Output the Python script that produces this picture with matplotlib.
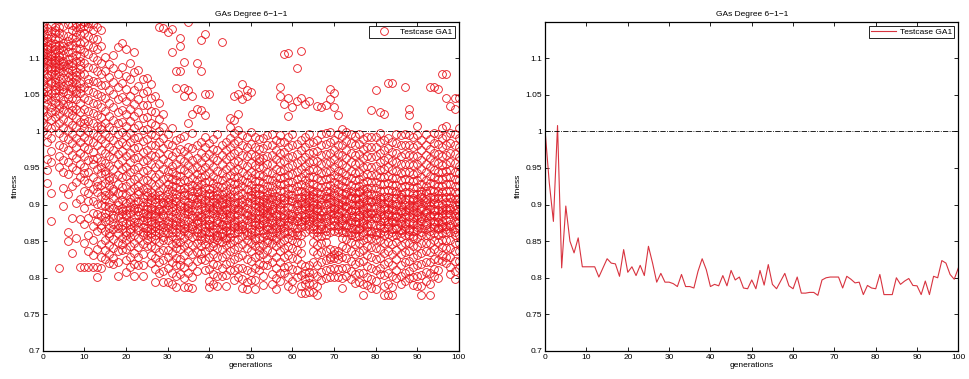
import matplotlib.pyplot as plt
import numpy as np
from matplotlib.pyplot import MultipleLocator

# best fitness of each generation (right panel)
best_fit = [
	1.000, 0.930, 0.877, 1.008, 0.8135, 0.898, 0.850, 0.834, 0.8545, 0.815,
	0.815, 0.815, 0.815, 0.801, 0.8135, 0.826, 0.820, 0.819, 0.802, 0.8385,
	0.8075, 0.815, 0.803, 0.817, 0.803, 0.843, 0.820, 0.794, 0.806, 0.794,
	0.794, 0.792, 0.788, 0.8045, 0.788, 0.788, 0.786, 0.809, 0.826, 0.811,
	0.788, 0.791, 0.789, 0.803, 0.789, 0.810, 0.797, 0.801, 0.786, 0.785,
	0.797, 0.785, 0.810, 0.790, 0.818, 0.791, 0.785, 0.7955, 0.806, 0.789,
	0.785, 0.801, 0.779, 0.779, 0.780, 0.780, 0.776, 0.797, 0.800, 0.801,
	0.801, 0.801, 0.786, 0.802, 0.798, 0.793, 0.794, 0.777, 0.7895, 0.786,
	0.785, 0.8045, 0.777, 0.777, 0.777, 0.800, 0.791, 0.7955, 0.799, 0.7895,
	0.789, 0.777, 0.7955, 0.777, 0.802, 0.800, 0.8235, 0.820, 0.8045, 0.798,
	0.8135,
]

# whole population per generation (left panel), gens 0-14
pop_a = [
	[1.000, 1.012, 1.031, 1.046, 1.058, 1.064, 1.072, 1.083, 1.091, 1.097, 1.104, 1.108, 1.115, 1.122, 1.131, 1.139, 1.146, 1.027, 1.069, 1.088, 1.112, 1.142, 1.053, 1.018, 1.125],
	[0.930, 0.947, 0.962, 0.985, 0.996, 1.008, 1.021, 1.037, 1.049, 1.061, 1.074, 1.086, 1.093, 1.101, 1.109, 1.117, 1.124, 1.133, 1.141, 1.079, 1.097, 1.055, 1.112, 1.044, 1.128],
	[0.877, 0.916, 0.958, 0.973, 0.991, 1.004, 1.015, 1.026, 1.041, 1.052, 1.066, 1.078, 1.087, 1.095, 1.103, 1.106, 1.114, 1.121, 1.129, 1.137, 1.145, 1.082, 1.099, 1.068, 1.034],
	[1.008, 1.019, 1.028, 1.039, 1.047, 1.056, 1.063, 1.071, 1.079, 1.088, 1.094, 1.102, 1.107, 1.113, 1.119, 1.126, 1.134, 1.143, 1.098, 1.084, 1.067, 1.116, 1.052, 1.139],
	[0.8135, 0.951, 0.967, 0.982, 0.998, 1.011, 1.024, 1.036, 1.048, 1.057, 1.069, 1.076, 1.083, 1.091, 1.098, 1.105, 1.112, 1.118, 1.127, 1.135, 1.142, 1.062, 1.087, 1.101, 1.032],
	[0.898, 0.923, 0.944, 0.961, 0.979, 0.993, 1.005, 1.017, 1.029, 1.043, 1.054, 1.062, 1.073, 1.081, 1.089, 1.096, 1.104, 1.111, 1.121, 1.132, 1.144, 1.058, 1.093, 1.117, 1.038],
	[0.850, 0.862, 0.915, 0.942, 0.958, 0.975, 0.989, 1.002, 1.014, 1.026, 1.038, 1.051, 1.063, 1.074, 1.086, 1.092, 1.099, 1.108, 1.116, 1.123, 1.131, 1.147, 1.081, 1.045, 1.069],
	[0.834, 0.882, 0.926, 0.952, 0.968, 0.984, 0.997, 1.009, 1.022, 1.035, 1.046, 1.058, 1.067, 1.076, 1.084, 1.093, 1.101, 1.109, 1.118, 1.128, 1.138, 1.146, 1.061, 1.089, 1.029],
	[0.8545, 0.902, 0.931, 0.947, 0.963, 0.978, 0.991, 1.006, 1.018, 1.031, 1.044, 1.056, 1.065, 1.072, 1.081, 1.096, 1.105, 1.114, 1.122, 1.129, 1.136, 1.143, 1.148, 1.077, 1.052],
	[0.815, 0.880, 0.908, 0.937, 0.955, 0.971, 0.986, 0.999, 1.013, 1.027, 1.039, 1.053, 1.066, 1.078, 1.091, 1.103, 1.112, 1.121, 1.133, 1.141, 1.147, 1.085, 1.059, 1.096],
	[0.815, 0.848, 0.873, 0.896, 0.918, 0.934, 0.951, 0.966, 0.979, 0.992, 1.004, 1.017, 1.031, 1.046, 1.061, 1.078, 1.094, 1.109, 1.122, 1.135, 1.144, 1.149, 0.943, 1.012],
	[0.815, 0.836, 0.859, 0.882, 0.916, 0.929, 0.944, 0.961, 0.976, 0.988, 1.001, 1.014, 1.028, 1.043, 1.057, 1.072, 1.088, 1.106, 1.118, 1.131, 1.142, 1.148, 0.905, 1.066],
	[0.815, 0.831, 0.852, 0.871, 0.889, 0.905, 0.921, 0.938, 0.956, 0.972, 0.985, 0.998, 1.011, 1.025, 1.039, 1.054, 1.069, 1.086, 1.101, 1.115, 1.127, 1.139, 1.147, 0.962],
	[0.801, 0.815, 0.839, 0.864, 0.887, 0.901, 0.917, 0.932, 0.948, 0.964, 0.981, 0.994, 1.008, 1.022, 1.037, 1.051, 1.067, 1.083, 1.098, 1.112, 1.126, 1.143, 0.926, 0.878],
	[0.8135, 0.829, 0.846, 0.868, 0.885, 0.899, 0.912, 0.927, 0.943, 0.959, 0.974, 0.989, 1.003, 1.019, 1.034, 1.048, 1.063, 1.079, 1.094, 1.117, 1.138, 0.872, 0.951, 1.007],
]

# gens 15-29
pop_b = [
	[0.826, 0.838, 0.851, 0.864, 0.877, 0.889, 0.898, 0.907, 0.918, 0.929, 0.942, 0.957, 0.971, 0.984, 0.996, 1.012, 1.028, 1.046, 1.063, 1.082, 1.101, 0.883, 0.913, 0.946],
	[0.820, 0.832, 0.845, 0.857, 0.868, 0.879, 0.891, 0.903, 0.914, 0.926, 0.938, 0.953, 0.967, 0.979, 0.992, 1.006, 1.021, 1.039, 1.057, 1.074, 1.092, 0.861, 0.897, 0.934],
	[0.819, 0.827, 0.841, 0.853, 0.866, 0.874, 0.886, 0.895, 0.909, 0.921, 0.936, 0.949, 0.963, 0.975, 0.988, 1.002, 1.016, 1.033, 1.051, 1.068, 1.086, 1.104, 0.882, 0.918],
	[0.802, 0.822, 0.836, 0.849, 0.861, 0.872, 0.884, 0.893, 0.904, 0.916, 0.928, 0.941, 0.955, 0.969, 0.983, 0.997, 1.011, 1.026, 1.044, 1.061, 1.079, 1.115, 0.868, 0.899],
	[0.8385, 0.846, 0.855, 0.866, 0.877, 0.887, 0.896, 0.906, 0.915, 0.924, 0.937, 0.948, 0.961, 0.973, 0.986, 0.999, 1.013, 1.029, 1.047, 1.066, 1.088, 1.121, 0.891, 0.872],
	[0.8075, 0.824, 0.839, 0.851, 0.863, 0.875, 0.884, 0.893, 0.902, 0.913, 0.925, 0.939, 0.952, 0.966, 0.981, 0.994, 1.008, 1.024, 1.041, 1.058, 1.076, 1.112, 0.887, 0.858],
	[0.815, 0.829, 0.843, 0.856, 0.867, 0.878, 0.889, 0.897, 0.908, 0.919, 0.931, 0.944, 0.958, 0.971, 0.985, 0.998, 1.014, 1.031, 1.049, 1.071, 1.093, 0.862, 0.903, 0.874],
	[0.803, 0.819, 0.834, 0.848, 0.859, 0.871, 0.882, 0.892, 0.901, 0.911, 0.923, 0.935, 0.949, 0.963, 0.977, 0.991, 1.005, 1.021, 1.038, 1.056, 1.081, 1.108, 0.876, 0.895],
	[0.817, 0.828, 0.842, 0.854, 0.865, 0.876, 0.886, 0.895, 0.905, 0.914, 0.926, 0.938, 0.951, 0.965, 0.979, 0.993, 1.009, 1.027, 1.044, 1.062, 1.084, 0.869, 0.891, 0.918],
	[0.803, 0.818, 0.833, 0.846, 0.858, 0.869, 0.879, 0.888, 0.898, 0.909, 0.921, 0.933, 0.946, 0.959, 0.972, 0.987, 1.002, 1.018, 1.036, 1.053, 1.072, 0.883, 0.862, 0.904],
	[0.843, 0.851, 0.859, 0.868, 0.877, 0.886, 0.894, 0.903, 0.912, 0.922, 0.934, 0.947, 0.961, 0.975, 0.989, 1.003, 1.019, 1.036, 1.055, 1.073, 0.881, 0.898, 0.917, 0.864],
	[0.820, 0.831, 0.844, 0.856, 0.867, 0.877, 0.887, 0.896, 0.906, 0.917, 0.929, 0.942, 0.956, 0.968, 0.982, 0.996, 1.011, 1.028, 1.046, 1.065, 0.873, 0.892, 0.911, 0.861],
	[0.794, 0.812, 0.827, 0.841, 0.853, 0.864, 0.875, 0.884, 0.893, 0.903, 0.913, 0.925, 0.938, 0.952, 0.966, 0.981, 0.995, 1.009, 1.026, 1.048, 0.871, 0.889, 0.907, 0.858],
	[0.806, 0.821, 0.835, 0.849, 0.861, 0.872, 0.882, 0.891, 0.899, 0.908, 0.918, 0.929, 0.942, 0.956, 0.971, 0.986, 1.001, 1.017, 1.039, 1.143, 0.878, 0.866, 0.894, 0.913],
	[0.794, 0.809, 0.824, 0.838, 0.851, 0.863, 0.874, 0.884, 0.893, 0.902, 0.911, 0.922, 0.935, 0.948, 0.962, 0.977, 0.991, 1.006, 1.024, 1.141, 0.869, 0.887, 0.904, 0.856],
]

# gens 30-64
pop_c = [
	[0.794, 0.813, 0.829, 0.838, 0.852, 0.861, 0.869, 0.878, 0.886, 0.893, 0.899, 0.907, 0.914, 0.921, 0.928, 0.937, 0.946, 0.958, 0.969, 0.983, 0.996, 1.136, 0.874, 0.903],
	[0.792, 0.806, 0.821, 0.834, 0.846, 0.857, 0.866, 0.875, 0.883, 0.891, 0.902, 0.911, 0.918, 0.926, 0.935, 0.944, 0.953, 0.967, 0.981, 1.004, 1.109, 1.140, 0.862, 0.897],
	[0.788, 0.803, 0.818, 0.827, 0.841, 0.853, 0.863, 0.872, 0.881, 0.889, 0.896, 0.905, 0.915, 0.924, 0.933, 0.941, 0.956, 0.972, 0.988, 1.059, 1.082, 0.848, 0.877, 0.909],
	[0.8045, 0.817, 0.826, 0.839, 0.849, 0.858, 0.867, 0.876, 0.884, 0.892, 0.901, 0.912, 0.921, 0.931, 0.939, 0.948, 0.962, 0.976, 0.991, 1.127, 1.116, 1.082, 0.871, 0.898],
	[0.788, 0.799, 0.815, 0.831, 0.843, 0.855, 0.864, 0.873, 0.882, 0.888, 0.897, 0.906, 0.913, 0.922, 0.934, 0.947, 0.959, 0.973, 0.994, 1.059, 1.048, 1.095, 0.868, 0.917],
	[0.788, 0.807, 0.822, 0.836, 0.847, 0.858, 0.869, 0.878, 0.887, 0.895, 0.904, 0.913, 0.924, 0.932, 0.943, 0.954, 0.966, 0.979, 1.012, 1.057, 1.149, 0.861, 0.891, 0.899],
	[0.786, 0.801, 0.816, 0.832, 0.845, 0.856, 0.866, 0.874, 0.882, 0.893, 0.901, 0.909, 0.918, 0.927, 0.936, 0.949, 0.961, 0.977, 0.998, 1.048, 1.024, 0.871, 0.886, 0.912],
	[0.809, 0.823, 0.835, 0.848, 0.857, 0.866, 0.875, 0.884, 0.891, 0.899, 0.908, 0.917, 0.925, 0.933, 0.942, 0.951, 0.964, 0.982, 1.031, 1.093, 0.862, 0.879, 0.903, 0.921],
	[0.826, 0.834, 0.843, 0.851, 0.861, 0.869, 0.877, 0.886, 0.894, 0.902, 0.911, 0.919, 0.928, 0.938, 0.947, 0.958, 0.971, 0.986, 1.029, 1.082, 1.125, 0.857, 0.883, 0.907],
	[0.811, 0.824, 0.837, 0.846, 0.855, 0.864, 0.873, 0.881, 0.889, 0.897, 0.906, 0.915, 0.923, 0.931, 0.941, 0.952, 0.965, 0.978, 0.993, 1.022, 1.051, 1.133, 0.869, 0.892],
	[0.788, 0.796, 0.812, 0.828, 0.842, 0.853, 0.862, 0.871, 0.879, 0.887, 0.895, 0.903, 0.912, 0.921, 0.932, 0.944, 0.957, 0.969, 0.984, 1.051, 0.858, 0.874, 0.899, 0.916],
	[0.791, 0.805, 0.819, 0.833, 0.844, 0.854, 0.863, 0.872, 0.881, 0.888, 0.896, 0.904, 0.913, 0.922, 0.929, 0.939, 0.951, 0.963, 0.976, 0.989, 0.848, 0.867, 0.893, 0.908],
	[0.789, 0.802, 0.817, 0.829, 0.841, 0.851, 0.859, 0.868, 0.876, 0.884, 0.892, 0.901, 0.909, 0.918, 0.926, 0.935, 0.946, 0.961, 0.975, 0.997, 0.856, 0.879, 0.897, 0.913],
	[0.803, 0.814, 0.828, 0.839, 0.849, 0.857, 0.866, 0.874, 0.883, 0.891, 0.899, 0.907, 0.915, 0.924, 0.934, 0.943, 0.955, 0.968, 0.982, 1.122, 0.861, 0.887, 0.903, 0.872],
	[0.789, 0.804, 0.819, 0.833, 0.845, 0.855, 0.864, 0.872, 0.879, 0.887, 0.894, 0.902, 0.911, 0.919, 0.927, 0.937, 0.949, 0.962, 0.974, 0.986, 0.851, 0.869, 0.892, 0.908],
	[0.810, 0.822, 0.836, 0.847, 0.856, 0.865, 0.873, 0.881, 0.889, 0.897, 0.905, 0.914, 0.922, 0.931, 0.941, 0.953, 0.966, 0.979, 0.991, 1.006, 1.018, 0.861, 0.884, 0.911],
	[0.797, 0.811, 0.826, 0.839, 0.851, 0.861, 0.869, 0.877, 0.886, 0.894, 0.902, 0.911, 0.919, 0.928, 0.937, 0.946, 0.958, 0.971, 0.984, 0.998, 1.016, 1.049, 0.873, 0.899],
	[0.801, 0.813, 0.829, 0.842, 0.853, 0.862, 0.871, 0.879, 0.887, 0.895, 0.904, 0.913, 0.921, 0.929, 0.938, 0.948, 0.959, 0.973, 0.987, 1.002, 1.024, 1.051, 0.866, 0.892],
	[0.786, 0.798, 0.814, 0.831, 0.846, 0.857, 0.866, 0.874, 0.882, 0.891, 0.899, 0.907, 0.916, 0.925, 0.934, 0.944, 0.956, 0.968, 0.981, 0.995, 1.065, 1.044, 0.871, 0.903],
	[0.785, 0.794, 0.811, 0.826, 0.841, 0.852, 0.863, 0.871, 0.879, 0.886, 0.895, 0.904, 0.912, 0.921, 0.931, 0.941, 0.953, 0.966, 0.979, 0.993, 1.056, 1.049, 0.858, 0.889],
	[0.797, 0.808, 0.823, 0.836, 0.848, 0.858, 0.867, 0.876, 0.884, 0.892, 0.901, 0.909, 0.918, 0.927, 0.936, 0.945, 0.957, 0.969, 0.983, 0.999, 1.054, 0.862, 0.881, 0.913],
	[0.785, 0.797, 0.813, 0.829, 0.843, 0.854, 0.864, 0.872, 0.881, 0.889, 0.897, 0.906, 0.915, 0.923, 0.932, 0.942, 0.954, 0.967, 0.978, 0.992, 0.852, 0.876, 0.901, 0.919],
	[0.810, 0.819, 0.831, 0.844, 0.855, 0.865, 0.874, 0.882, 0.891, 0.898, 0.906, 0.914, 0.923, 0.932, 0.941, 0.951, 0.963, 0.976, 0.989, 0.869, 0.886, 0.903, 0.838, 0.959],
	[0.790, 0.803, 0.818, 0.832, 0.845, 0.856, 0.865, 0.873, 0.881, 0.889, 0.896, 0.904, 0.912, 0.921, 0.929, 0.939, 0.951, 0.964, 0.977, 0.991, 0.861, 0.879, 0.892, 0.908],
	[0.818, 0.826, 0.838, 0.849, 0.859, 0.867, 0.876, 0.884, 0.892, 0.901, 0.909, 0.917, 0.926, 0.935, 0.944, 0.955, 0.967, 0.981, 0.995, 0.871, 0.888, 0.897, 0.913, 0.852],
	[0.791, 0.805, 0.821, 0.835, 0.847, 0.857, 0.866, 0.875, 0.883, 0.891, 0.899, 0.908, 0.917, 0.926, 0.934, 0.943, 0.955, 0.968, 0.982, 0.997, 0.862, 0.879, 0.894, 0.911],
	[0.785, 0.799, 0.814, 0.829, 0.843, 0.854, 0.863, 0.871, 0.879, 0.887, 0.895, 0.903, 0.912, 0.921, 0.929, 0.938, 0.949, 0.962, 0.974, 0.988, 0.851, 0.868, 0.884, 0.906],
	[0.7955, 0.807, 0.822, 0.836, 0.848, 0.858, 0.867, 0.876, 0.884, 0.892, 0.901, 0.909, 0.918, 0.927, 0.936, 0.946, 0.958, 0.971, 0.985, 0.995, 1.049, 1.060, 0.873, 0.897],
	[0.806, 0.815, 0.828, 0.841, 0.852, 0.861, 0.869, 0.878, 0.886, 0.893, 0.902, 0.911, 0.919, 0.928, 0.937, 0.947, 0.959, 0.972, 0.986, 1.106, 1.038, 0.864, 0.882, 0.906],
	[0.789, 0.801, 0.816, 0.831, 0.844, 0.855, 0.864, 0.872, 0.881, 0.889, 0.897, 0.906, 0.914, 0.922, 0.931, 0.941, 0.952, 0.965, 0.979, 0.993, 1.107, 1.046, 1.021, 0.876],
	[0.785, 0.796, 0.812, 0.827, 0.841, 0.852, 0.862, 0.871, 0.879, 0.887, 0.896, 0.905, 0.913, 0.922, 0.931, 0.942, 0.954, 0.967, 0.981, 0.996, 1.034, 0.858, 0.884, 0.909],
	[0.801, 0.811, 0.825, 0.838, 0.849, 0.859, 0.868, 0.877, 0.885, 0.893, 0.901, 0.909, 0.918, 0.926, 0.935, 0.945, 0.957, 0.969, 0.983, 1.086, 1.041, 0.863, 0.881, 0.898],
	[0.779, 0.789, 0.804, 0.819, 0.834, 0.847, 0.859, 0.869, 0.878, 0.886, 0.894, 0.902, 0.911, 0.919, 0.928, 0.937, 0.948, 0.961, 0.974, 0.988, 1.110, 1.046, 0.873, 0.905],
	[0.779, 0.791, 0.807, 0.816, 0.862, 0.871, 0.879, 0.887, 0.894, 0.902, 0.909, 0.917, 0.925, 0.934, 0.943, 0.953, 0.965, 0.978, 0.992, 1.038, 0.883, 0.898, 0.913, 0.798],
	[0.780, 0.793, 0.808, 0.818, 0.866, 0.874, 0.881, 0.889, 0.897, 0.905, 0.913, 0.921, 0.929, 0.938, 0.947, 0.958, 0.971, 0.984, 0.997, 1.042, 0.877, 0.893, 0.909, 0.801],
]

# gens 65-100
pop_d = [
	[0.780, 0.792, 0.806, 0.821, 0.836, 0.849, 0.861, 0.871, 0.879, 0.887, 0.895, 0.903, 0.911, 0.919, 0.928, 0.937, 0.948, 0.959, 0.972, 0.985, 0.867, 0.883, 0.899, 0.914],
	[0.776, 0.789, 0.803, 0.818, 0.832, 0.845, 0.857, 0.867, 0.876, 0.884, 0.892, 0.901, 0.909, 0.917, 0.926, 0.936, 0.947, 0.959, 0.973, 0.988, 1.035, 0.862, 0.881, 0.896],
	[0.797, 0.808, 0.821, 0.835, 0.847, 0.857, 0.866, 0.874, 0.882, 0.891, 0.899, 0.907, 0.915, 0.924, 0.933, 0.943, 0.955, 0.968, 0.982, 0.997, 1.033, 0.871, 0.886, 0.904],
	[0.800, 0.811, 0.824, 0.837, 0.849, 0.859, 0.868, 0.876, 0.884, 0.892, 0.901, 0.909, 0.918, 0.926, 0.935, 0.945, 0.957, 0.969, 0.983, 0.998, 1.036, 0.864, 0.881, 0.912],
	[0.801, 0.812, 0.826, 0.839, 0.863, 0.871, 0.879, 0.887, 0.895, 0.903, 0.911, 0.919, 0.927, 0.936, 0.946, 0.958, 0.971, 0.985, 0.999, 1.058, 1.044, 0.828, 0.891, 0.907],
	[0.801, 0.813, 0.827, 0.838, 0.864, 0.872, 0.881, 0.889, 0.897, 0.905, 0.913, 0.922, 0.931, 0.941, 0.951, 0.962, 0.975, 0.988, 1.053, 1.033, 0.833, 0.877, 0.894, 0.916],
	[0.801, 0.812, 0.825, 0.837, 0.862, 0.871, 0.879, 0.887, 0.894, 0.902, 0.911, 0.919, 0.928, 0.937, 0.946, 0.957, 0.969, 0.982, 0.996, 1.022, 0.831, 0.884, 0.899, 0.867],
	[0.786, 0.799, 0.814, 0.829, 0.843, 0.855, 0.865, 0.874, 0.882, 0.891, 0.899, 0.908, 0.916, 0.925, 0.934, 0.944, 0.956, 0.968, 0.981, 0.994, 1.003, 0.862, 0.879, 0.903],
	[0.802, 0.813, 0.827, 0.841, 0.853, 0.863, 0.872, 0.881, 0.889, 0.897, 0.905, 0.914, 0.923, 0.932, 0.941, 0.951, 0.963, 0.975, 0.987, 0.999, 0.869, 0.884, 0.898, 0.917],
	[0.798, 0.809, 0.823, 0.837, 0.849, 0.859, 0.868, 0.876, 0.884, 0.892, 0.901, 0.909, 0.918, 0.927, 0.936, 0.946, 0.958, 0.971, 0.984, 0.996, 0.863, 0.879, 0.893, 0.912],
	[0.793, 0.805, 0.819, 0.833, 0.846, 0.857, 0.866, 0.874, 0.883, 0.891, 0.899, 0.907, 0.916, 0.924, 0.933, 0.943, 0.955, 0.968, 0.981, 0.994, 0.861, 0.878, 0.895, 0.909],
	[0.794, 0.806, 0.821, 0.835, 0.847, 0.857, 0.866, 0.875, 0.883, 0.891, 0.899, 0.908, 0.917, 0.926, 0.935, 0.945, 0.957, 0.969, 0.983, 0.997, 0.868, 0.886, 0.902, 0.918],
	[0.777, 0.791, 0.807, 0.823, 0.838, 0.851, 0.862, 0.871, 0.879, 0.887, 0.896, 0.904, 0.912, 0.921, 0.930, 0.939, 0.951, 0.963, 0.976, 0.989, 0.858, 0.875, 0.892, 0.909],
	[0.7895, 0.801, 0.816, 0.831, 0.844, 0.855, 0.864, 0.873, 0.881, 0.889, 0.897, 0.906, 0.914, 0.923, 0.932, 0.942, 0.953, 0.966, 0.979, 0.993, 0.869, 0.884, 0.899, 0.917],
	[0.786, 0.798, 0.813, 0.828, 0.842, 0.854, 0.864, 0.873, 0.881, 0.889, 0.897, 0.905, 0.914, 0.922, 0.931, 0.941, 0.952, 0.965, 0.978, 0.992, 1.029, 0.861, 0.887, 0.903],
	[0.785, 0.796, 0.811, 0.826, 0.841, 0.853, 0.863, 0.872, 0.881, 0.889, 0.897, 0.905, 0.913, 0.922, 0.931, 0.941, 0.953, 0.966, 0.979, 0.993, 1.056, 0.858, 0.883, 0.908],
	[0.8045, 0.814, 0.827, 0.839, 0.851, 0.861, 0.869, 0.878, 0.886, 0.894, 0.902, 0.911, 0.919, 0.928, 0.937, 0.947, 0.958, 0.971, 0.985, 0.998, 1.027, 0.872, 0.891, 0.907],
	[0.777, 0.789, 0.804, 0.819, 0.834, 0.847, 0.858, 0.868, 0.877, 0.886, 0.894, 0.902, 0.911, 0.919, 0.928, 0.938, 0.949, 0.961, 0.974, 0.988, 1.024, 0.864, 0.881, 0.897],
	[0.777, 0.791, 0.807, 0.822, 0.837, 0.849, 0.860, 0.869, 0.878, 0.886, 0.894, 0.903, 0.911, 0.920, 0.929, 0.939, 0.951, 0.963, 0.977, 0.991, 1.066, 0.873, 0.889, 0.906],
	[0.777, 0.788, 0.803, 0.818, 0.833, 0.846, 0.857, 0.867, 0.876, 0.884, 0.893, 0.901, 0.909, 0.918, 0.927, 0.936, 0.947, 0.959, 0.972, 0.986, 1.066, 0.862, 0.879, 0.895],
	[0.800, 0.811, 0.825, 0.838, 0.849, 0.859, 0.868, 0.877, 0.885, 0.893, 0.901, 0.909, 0.918, 0.927, 0.936, 0.946, 0.958, 0.971, 0.984, 0.997, 0.866, 0.883, 0.898, 0.914],
	[0.791, 0.803, 0.818, 0.832, 0.845, 0.856, 0.865, 0.874, 0.882, 0.890, 0.898, 0.907, 0.915, 0.924, 0.933, 0.943, 0.955, 0.967, 0.981, 0.995, 0.861, 0.878, 0.893, 0.911],
	[0.7955, 0.807, 0.821, 0.835, 0.847, 0.858, 0.867, 0.875, 0.883, 0.891, 0.900, 0.908, 0.917, 0.926, 0.935, 0.945, 0.956, 0.969, 0.982, 0.996, 1.060, 0.871, 0.887, 0.904],
	[0.799, 0.809, 0.823, 0.836, 0.848, 0.858, 0.867, 0.876, 0.884, 0.892, 0.900, 0.908, 0.917, 0.925, 0.934, 0.944, 0.956, 0.968, 0.981, 0.995, 1.030, 1.022, 0.864, 0.896],
	[0.7895, 0.801, 0.815, 0.829, 0.843, 0.854, 0.864, 0.873, 0.881, 0.889, 0.897, 0.906, 0.914, 0.923, 0.932, 0.942, 0.954, 0.966, 0.979, 0.993, 0.857, 0.876, 0.892, 0.909],
	[0.789, 0.802, 0.817, 0.831, 0.844, 0.855, 0.865, 0.874, 0.882, 0.890, 0.899, 0.907, 0.915, 0.924, 0.933, 0.943, 0.955, 0.967, 0.981, 0.995, 1.008, 0.869, 0.886, 0.903],
	[0.777, 0.789, 0.804, 0.819, 0.834, 0.847, 0.858, 0.868, 0.877, 0.885, 0.894, 0.902, 0.911, 0.919, 0.928, 0.937, 0.948, 0.961, 0.974, 0.988, 0.863, 0.881, 0.897, 0.914],
	[0.7955, 0.808, 0.822, 0.836, 0.848, 0.858, 0.867, 0.875, 0.883, 0.891, 0.899, 0.907, 0.916, 0.925, 0.934, 0.944, 0.956, 0.968, 0.982, 0.996, 0.872, 0.888, 0.903, 0.919],
	[0.777, 0.791, 0.806, 0.821, 0.835, 0.848, 0.859, 0.869, 0.878, 0.886, 0.894, 0.903, 0.911, 0.920, 0.929, 0.939, 0.951, 0.963, 0.976, 0.990, 1.060, 0.864, 0.884, 0.898],
	[0.802, 0.812, 0.826, 0.839, 0.851, 0.861, 0.869, 0.878, 0.886, 0.894, 0.902, 0.911, 0.919, 0.928, 0.937, 0.947, 0.958, 0.971, 0.984, 0.998, 1.061, 0.874, 0.891, 0.907],
	[0.800, 0.811, 0.824, 0.837, 0.849, 0.859, 0.868, 0.876, 0.884, 0.892, 0.901, 0.909, 0.918, 0.926, 0.935, 0.945, 0.957, 0.969, 0.983, 0.997, 1.058, 0.866, 0.883, 0.913],
	[0.8235, 0.831, 0.842, 0.852, 0.861, 0.869, 0.877, 0.885, 0.893, 0.901, 0.909, 0.917, 0.926, 0.935, 0.944, 0.954, 0.966, 0.978, 0.991, 1.004, 1.079, 0.872, 0.889, 0.897],
	[0.820, 0.829, 0.841, 0.852, 0.862, 0.871, 0.879, 0.887, 0.895, 0.903, 0.911, 0.919, 0.928, 0.937, 0.946, 0.956, 0.968, 0.981, 0.994, 1.008, 1.079, 1.045, 0.866, 0.892],
	[0.8045, 0.815, 0.828, 0.841, 0.852, 0.862, 0.871, 0.879, 0.887, 0.895, 0.903, 0.911, 0.919, 0.928, 0.937, 0.947, 0.958, 0.971, 0.984, 0.998, 1.035, 0.874, 0.893, 0.909],
	[0.798, 0.809, 0.823, 0.836, 0.848, 0.858, 0.867, 0.876, 0.884, 0.892, 0.900, 0.908, 0.917, 0.926, 0.935, 0.945, 0.957, 0.969, 0.982, 0.996, 1.045, 1.031, 0.862, 0.889],
	[0.8135, 0.823, 0.836, 0.848, 0.859, 0.868, 0.877, 0.885, 0.893, 0.901, 0.909, 0.917, 0.926, 0.934, 0.943, 0.953, 0.965, 0.978, 0.991, 1.005, 1.046, 0.871, 0.886, 0.903],
]

population = pop_a + pop_b + pop_c + pop_d


def style_axes(ax):
	ax.set_xlim(0, 100)
	ax.set_ylim(0.7, 1.15)
	ax.xaxis.set_major_locator(MultipleLocator(10))
	ax.set_yticks([0.7, 0.75, 0.8, 0.85, 0.9, 0.95, 1.0, 1.05, 1.1])
	ax.set_yticklabels(['0.7', '0.75', '0.8', '0.85', '0.9', '0.95', '1', '1.05', '1.1'])
	ax.tick_params(direction='in', top=True, right=True, length=3, width=0.6, labelsize=6, pad=2)
	for s in ax.spines.values():
		s.set_linewidth(0.9)
	ax.axhline(1.0, color='k', linestyle='-.', linewidth=0.6)
	ax.set_title('GAs Degree 6\u22121\u22121', fontsize=6, pad=4)
	ax.set_xlabel('generations', fontsize=6, labelpad=1)
	ax.set_ylabel('fitness', fontsize=6, labelpad=3)


if __name__ == "__main__":
	plt.rcParams['font.family'] = ['Liberation Sans', 'DejaVu Sans']

	fig = plt.figure(figsize=(9.7, 3.79), dpi=100)
	ax1 = fig.add_axes([0.044, 0.074, 0.429, 0.869])
	ax2 = fig.add_axes([0.562, 0.074, 0.426, 0.869])

	xs, ys = [], []
	for gen, row in enumerate(population):
		xs.extend([gen] * len(row))
		ys.extend(row)
	ax1.plot(xs, ys, 'o', color='#e8141c', mfc='none', markersize=5.6, markeredgewidth=0.6, label='Testcase GA1')
	style_axes(ax1)

	ax2.plot(np.arange(len(best_fit)), best_fit, '-', color='#d8333f', linewidth=0.8, label='Testcase GA1')
	style_axes(ax2)

	for ax in (ax1, ax2):
		leg = ax.legend(loc='upper right', fontsize=6, fancybox=False, framealpha=1,
						borderpad=0.25, handlelength=3.0, handletextpad=0.5, borderaxespad=0.5)
		leg.get_frame().set_edgecolor('k')
		leg.get_frame().set_linewidth(0.6)

	fig.savefig('out.png', dpi=100)
